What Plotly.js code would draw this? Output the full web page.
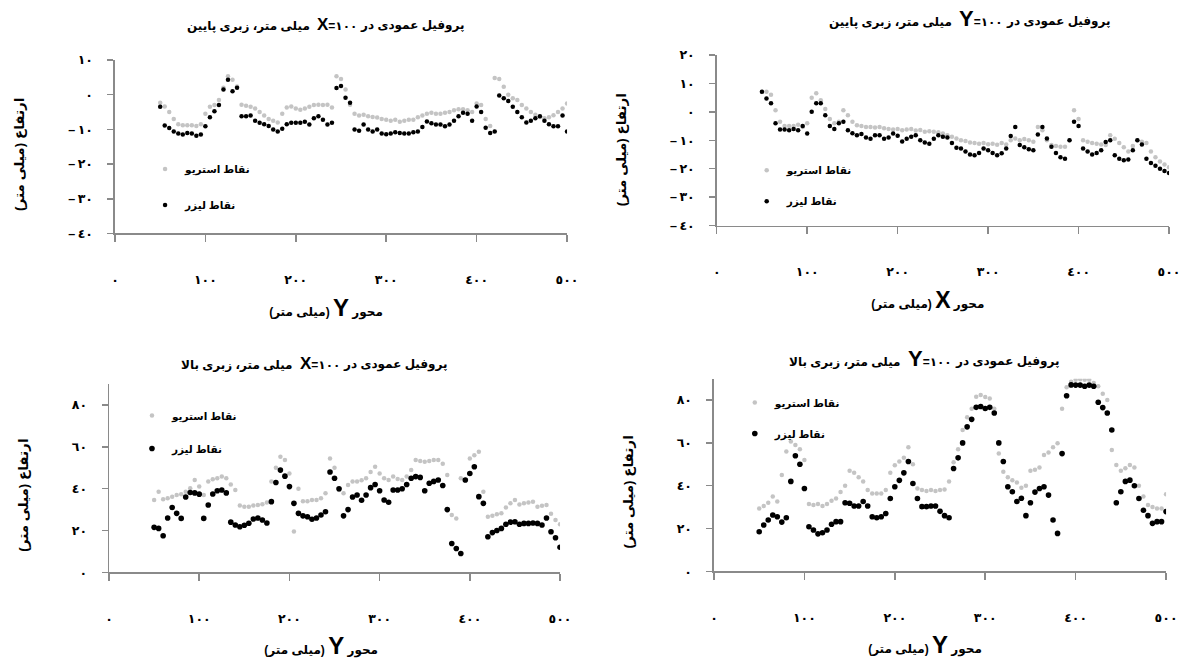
<!DOCTYPE html>
<html>
<head>
<meta charset="utf-8">
<script src="https://cdn.plot.ly/plotly-3.0.1.min.js"></script>
<style>html,body{margin:0;padding:0;background:#fff;}#chart{width:1189px;height:666px;}</style>
</head>
<body>
<div id="chart"></div>
<script>
// ---- sample positions along the profile (mm) ----
const xs = [50,55,60,65,70,75,80,85,90,95,100,105,110,115,120,125,130,135,140,145,150,155,160,165,170,175,180,185,190,195,200,205,210,215,220,225,230,235,240,245,250,255,260,265,270,275,280,285,290,295,300,305,310,315,320,325,330,335,340,345,350,355,360,365,370,375,380,385,390,395,400,405,410,415,420,425,430,435,440,445,450,455,460,465,470,475,480,485,490,495,500];

// ---- top-left: X=100, low roughness (height, mm) ----
const tlStereo = [-2.3,-3.4,-5,-7,-8.5,-8.8,-8.8,-8.8,-9,-8.5,
  -5.5,-3.5,-3,-1.5,2,5.3,4.3,2.4,-2.9,-3.2,
  -3.5,-4,-5,-6,-7,-7.5,-8,-5.5,-3.7,-3.4,
  -4,-4.3,-4,-3.5,-3,-2.9,-3,-2.9,-3.7,5.3,
  4.5,1.5,-2.9,-5.5,-6,-5.8,-6.2,-6.4,-6.6,-7,
  -7.2,-7.5,-7.2,-7.8,-7.5,-7.2,-7.2,-6.5,-6,-5.5,
  -5.2,-5.5,-5.5,-5.2,-5,-4.5,-4.2,-4.2,-4.5,-5,
  -2.5,-3,-7,-9,4.8,4.5,2.3,0,-1,-1.5,
  -3,-4,-5,-5.8,-6.4,-6.8,-6.5,-5.9,-5,-4,
  -2.5];
const tlLaser = [-3.5,-8.9,-9.6,-10.6,-11.2,-11.5,-11,-11.2,-11.8,-11.5,
  -9.1,-6.5,-4.8,-3,1.5,4.3,1,2,-6.2,-6.2,
  -6,-7.5,-8.1,-8.5,-9,-10,-10.6,-9.8,-8.5,-8.1,
  -8.1,-8.1,-7.8,-8.6,-6.8,-6.2,-7.2,-8.6,-8.1,1.9,
  2.5,-0.9,-2.3,-10,-10.4,-8.6,-10,-10.6,-10,-11.2,
  -11.4,-11.2,-10.8,-11,-11.2,-11.2,-10.8,-10.6,-9.3,-7.7,
  -8.2,-8.6,-8.6,-9.1,-8.6,-7.5,-6.2,-5.2,-5.5,-7.5,
  -3.4,-5,-9.5,-11,-10.6,-0.2,-1,-1.8,-3.5,-5,
  -6.5,-8,-7.5,-6.8,-6.2,-7.5,-8.5,-9.1,-9.1,-6,
  -10.6];

// ---- top-right: Y=100, low roughness ----
const trStereo = [7,7.1,6,0.6,-3.5,-5,-5,-5,-4.5,-5.3,
  -4,5,6.5,4.1,1,-2.5,-4,-3.5,0.6,-1.2,
  -3.5,-4.7,-5,-5.3,-5.3,-5.5,-5.3,-5.8,-6,-6.2,
  -6,-6.5,-6.2,-6,-6.6,-6.4,-7,-6.8,-7,-7.2,
  -7.6,-8.2,-8.8,-9.4,-10,-10.3,-10.8,-11,-11.2,-11,
  -11.4,-11.2,-11.6,-11,-11.5,-10,-9.4,-10,-9.6,-10,
  -10.5,-5.3,-6.5,-10,-11.7,-12,-12.3,-12.3,-10,0.6,
  -2.5,-10,-10.5,-11,-11.2,-11.5,-11.7,-8.2,-9.5,-11,
  -12.5,-14,-12,-10,-10.5,-11,-14,-16,-17.5,-18.5,
  -19.5];
const trLaser = [7.1,4.7,3,-4,-6.2,-6.2,-6.5,-6,-6.5,-5,
  -7.6,0,3,3,-1.2,-5,-6,-4,-3.5,-6.5,
  -7.5,-8.2,-7.8,-9,-9.5,-8.2,-8.2,-9.5,-9,-7.6,
  -8.4,-10.4,-9.5,-8.8,-8.2,-10,-10.8,-11.2,-9.5,-8.2,
  -8.8,-9,-11,-12.6,-12.9,-14,-15,-15.3,-14.5,-12.9,
  -13.5,-14.5,-15.3,-14.6,-12.9,-8.5,-5.3,-11.7,-12.5,-13.2,
  -13.5,-8,-5.3,-9.4,-12.3,-14.5,-16,-16.5,-10,-3.5,
  -5,-12.9,-14,-15,-14.5,-13.5,-10.6,-10,-15.3,-16.5,
  -17,-16.8,-13.5,-10,-11.5,-16.5,-18,-19,-20,-20.8,
  -21.5];

// ---- bottom-left: X=100, high roughness ----
const blStereo = [34.6,38.6,35,35.4,36.2,37,37.4,38.5,40.2,44.2,
  41,37,43.5,44.5,45,45.8,45,42,39.4,32,
  31.4,31.4,32,32.2,32.6,33.4,43.4,50,55.3,53.7,
  47.3,19.5,40,34,34,34.6,34.6,35.4,37.8,54.5,
  50,39.4,37.8,41.8,43.4,43.4,44,45,48,50.5,
  47.3,45,44.2,45.8,44.6,44.2,45.8,49,53.7,53.2,
  52.9,53.3,53.7,53.7,52,46.5,27.4,25.8,45,44.2,
  54.5,56,57.7,38.6,26.6,27,27.8,28.2,31,33,
  34.6,32.4,33,33.4,33.8,31.4,31.8,32.2,28,25,
  23];
const blLaser = [21.5,21,17.5,26,31,28.2,25.8,36,38.2,38,
  37.4,25.8,32.2,37.5,39,39.4,38,24,22.6,21.8,
  22.5,23.5,25.5,26,25,23.6,33.8,43,48.9,46,
  41,33,28.2,27,26.6,25.4,26,27.4,29,48,
  45,40,27,30,36,37,34.5,37,40.5,42,
  39,34.6,33.5,39.4,39.4,40,42,45,45.8,45.4,
  39,42.6,43.5,44.2,41.5,30,13.8,11.4,9,44.2,
  47.3,50.5,36.2,33,17,19,20,21,23,24,
  24.2,23,23.4,23.4,23.6,23.4,22.6,26,19.4,16.5,
  12];

// ---- bottom-right: Y=100, high roughness ----
const brStereo = [29.4,30.5,32,34.9,32.6,45,56,60.6,59,57,
  52,31.5,31,31.5,30.5,31.5,33,34,37,40,
  47,46,44,42,38,36.4,36.4,36.4,38,46,
  49.5,51.3,53,58,50,38.7,38,37.5,38,37.5,
  38,38.2,42,51,57,66,72,76,81.6,82.4,
  81.5,80.8,76,55,46.5,44,42.6,41.5,39,40,
  47,47.5,48.5,54.3,55.5,58,59.8,76,86,88.6,
  89.5,89.7,89.5,89.5,88,86.5,83,80,56.7,49.7,
  47,48.1,49.7,48.5,40,35,31,30,29.4,29.4,
  36];
const brLaser = [18.5,21.6,24,26.3,25.5,23,25,42,54,50,
  38.7,20.8,19.3,17.5,18,19.3,22,23.2,23.2,32,
  31.8,30.5,30.5,32.6,30.5,25.5,25,25.5,27,34,
  39.5,42.5,46,51.3,41,34,30.2,30.2,30.5,30.5,
  28,26,25,48,53,60,67.5,71,76.6,77,
  76.1,76.6,74,60,51.3,39.5,37.2,32.6,34.1,26,
  32,37,38.7,39.5,35.6,24,17.7,55,82,87.1,
  87,87,86.5,87,86.5,79,76.5,74,66,32,
  37.2,42,42.6,40,34,28.5,26,22.4,23.2,23.2,
  27.9];

// ---- labels ----
const stereoName = 'نقاط استریو';
const laserName = 'نقاط لیزر';
const xTickVals = [0,100,200,300,400,500];
const xTickText = ['٠','١٠٠','٢٠٠','٣٠٠','٤٠٠','٥٠٠'];
const yTopLVals = [-40,-30,-20,-10,0,10];
const yTopLText = ['–\u2009٤٠','–\u2009٣٠','–\u2009٢٠','–\u2009١٠','٠','١٠'];
const yTopRVals = [-40,-30,-20,-10,0,10,20];
const yTopRText = ['–\u2009٤٠','–\u2009٣٠','–\u2009٢٠','–\u2009١٠','٠','١٠','٢٠'];
const yBotVals = [0,20,40,60,80];
const yBotText = ['٠','٢٠','٤٠','٦٠','٨٠'];
// chart titles (right-to-left): head | "X=100" | tail
const titleHead = 'پروفیل عمودی در';
const titleTails = ['میلی متر، زبری پایین', 'میلی متر، زبری پایین', 'میلی متر، زبری بالا', 'میلی متر، زبری بالا'];
const titleLetters = ['X', 'Y', 'X', 'Y'];
const titleValue = '١٠٠';
const xTitleText = 'محور {L} (میلی متر)';
const yTitleText = 'ارتفاع (میلی متر)';

const RLE = '\u202B', PDF = '\u202C', NBSP = '\u00A0';
// right-to-left axis titles; leading no-break spaces nudge the visible text as in the original
function xTitle(letter, size, pad) {
  return RLE + NBSP.repeat(pad) + xTitleText.replace('{L}', '<span style="font-size:' + size + 'px">' + letter + '</span>') + PDF;
}
function yTitle(pad) {
  return RLE + NBSP.repeat(pad) + yTitleText + PDF;
}

const FAM = 'Liberation Sans, DejaVu Sans, sans-serif';
const boldFont = (s) => ({family: FAM, size: s, color: '#000', weight: 'bold'});

function pair(xa, ya, st, la, leg, bigBlack) {
  return [
    {x: xs, y: st, xaxis: xa, yaxis: ya, type: 'scatter', mode: 'markers', name: stereoName,
     legend: leg, legendgroup: leg + 'a',
     marker: {color: '#c4c4c4', size: 4.5}},
    {x: xs, y: la, xaxis: xa, yaxis: ya, type: 'scatter', mode: 'markers', name: laserName,
     legend: leg, legendgroup: leg + 'b',
     marker: {color: '#000000', size: bigBlack ? 5.6 : 4.5}}
  ];
}

const data = [].concat(
  pair('x', 'y', tlStereo, tlLaser, 'legend', false),
  pair('x2', 'y2', trStereo, trLaser, 'legend2', false),
  pair('x3', 'y3', blStereo, blLaser, 'legend3', true),
  pair('x4', 'y4', brStereo, brLaser, 'legend4', true)
);

function xAx(dom, anchor, title) {
  return {domain: dom, anchor: anchor, range: [0, 500], autorange: false,
    showline: true, linecolor: '#8a8a8a', linewidth: 1.5, ticks: 'outside', ticklen: 7,
    tickcolor: '#8a8a8a', tickwidth: 1.5, showgrid: false, zeroline: false,
    tickvals: xTickVals, ticktext: xTickText, tickfont: boldFont(12.5), ticklabelstandoff: 27,
    automargin: false, fixedrange: true,
    title: {text: title, font: boldFont(12), standoff: 21}};
}
function yAx(dom, anchor, range, vals, text, title) {
  return {domain: dom, anchor: anchor, range: range, autorange: false,
    showline: true, linecolor: '#8a8a8a', linewidth: 1.5, ticks: 'outside', ticklen: 6,
    tickcolor: '#8a8a8a', tickwidth: 1.5, showgrid: false, zeroline: false,
    tickvals: vals, ticktext: text, tickfont: boldFont(12.5), ticklabelstandoff: 12,
    automargin: false, fixedrange: true,
    title: {text: title, font: boldFont(13.5), standoff: 40}};
}
function leg(x, y, gap) {
  return {x: x, y: y, xanchor: 'left', yanchor: 'top', bgcolor: 'rgba(0,0,0,0)',
    borderwidth: 0, font: boldFont(10.5), traceorder: 'grouped', tracegroupgap: gap,
    itemclick: false, itemdoubleclick: false};
}
function txt(text, x, y, anchor) {
  return {text: text, x: x, y: y, xref: 'paper', yref: 'paper', xanchor: anchor, yanchor: 'middle',
    showarrow: false, font: boldFont(12)};
}
// a title laid out right-to-left: tail (left) | letter=value (middle) | head (right)
function titlePieces(i, tailRight, midLeft, headLeft, y, midLift) {
  const big = titleLetters[i] === 'Y' ? 22 : 17;
  return [
    txt(titleTails[i], tailRight, y, 'right'),
    txt('<span style="font-size:' + big + 'px">' + titleLetters[i] + '</span>=' + titleValue, midLeft, y + midLift, 'left'),
    txt(titleHead, headLeft, y, 'left')
  ];
}

const layout = {
  width: 1189, height: 666,
  margin: {l: 0, r: 0, t: 0, b: 0},
  paper_bgcolor: '#ffffff', plot_bgcolor: '#ffffff',
  showlegend: true,
  xaxis: xAx([0.0967, 0.4769], 'y', xTitle('Y', 24, 9)),
  yaxis: yAx([0.6494, 0.9099], 'x', [-40, 10], yTopLVals, yTopLText, yTitle(4)),
  xaxis2: xAx([0.6028, 0.9832], 'y2', xTitle('X', 23, 9)),
  yaxis2: yAx([0.6614, 0.9174], 'x2', [-40, 20], yTopRVals, yTopRText, yTitle(5)),
  xaxis3: xAx([0.0917, 0.4710], 'y3', xTitle('Y', 24, 8)),
  yaxis3: yAx([0.1407, 0.4231], 'x3', [0, 90], yBotVals, yBotText, yTitle(9)),
  xaxis4: xAx([0.6005, 0.9807], 'y4', xTitle('Y', 24, 9)),
  yaxis4: yAx([0.1422, 0.4314], 'x4', [0, 90], yBotVals, yBotText, yTitle(9)),
  legend: leg(0.122, 0.768, 17),
  legend2: leg(0.628, 0.766, 12),
  legend3: leg(0.111, 0.398, 14),
  legend4: leg(0.618, 0.4174, 12),
  annotations: [].concat(
    titlePieces(0, 0.2624, 0.2649, 0.3011, 0.961, 0.0024),
    titlePieces(1, 0.8024, 0.8049, 0.8444, 0.967, 0.0050),
    titlePieces(2, 0.2481, 0.2506, 0.2868, 0.452, 0.0024),
    titlePieces(3, 0.7595, 0.7620, 0.8015, 0.4565, 0.0050)
  )
};

Plotly.newPlot('chart', data, layout, {displayModeBar: false, staticPlot: true});
</script>
</body>
</html>
